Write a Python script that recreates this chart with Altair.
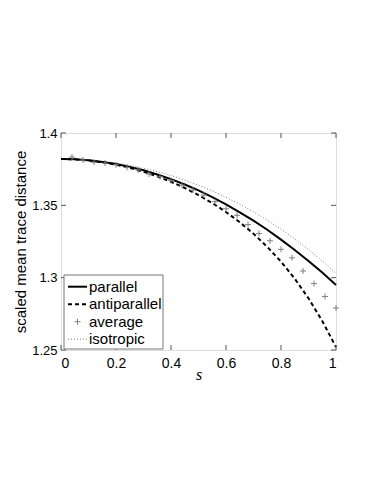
import altair as alt
import pandas as pd

# ---- data ----
s_line = [0.00, 0.05, 0.10, 0.15, 0.20, 0.25, 0.30, 0.35, 0.40, 0.45, 0.50,
          0.55, 0.60, 0.65, 0.70, 0.75, 0.80, 0.85, 0.90, 0.95, 1.00]
parallel = [1.3820, 1.3818, 1.3811, 1.3800, 1.3785, 1.3766, 1.3742, 1.3713, 1.3681, 1.3644, 1.3603,
            1.3557, 1.3507, 1.3452, 1.3394, 1.3331, 1.3263, 1.3191, 1.3115, 1.3035, 1.2950]
antiparallel = [1.3820, 1.3818, 1.3810, 1.3798, 1.3781, 1.3759, 1.3732, 1.3700, 1.3663, 1.3620, 1.3571,
                1.3516, 1.3454, 1.3383, 1.3304, 1.3213, 1.3111, 1.2993, 1.2857, 1.2701, 1.2520]
isotropic = [1.3820, 1.3818, 1.3813, 1.3804, 1.3792, 1.3776, 1.3756, 1.3733, 1.3706, 1.3675, 1.3639,
             1.3600, 1.3556, 1.3508, 1.3455, 1.3398, 1.3335, 1.3267, 1.3194, 1.3115, 1.3030]

s_avg = [0.04, 0.08, 0.12, 0.16, 0.20, 0.24, 0.28, 0.32, 0.36, 0.40, 0.44, 0.48, 0.52,
         0.56, 0.60, 0.64, 0.68, 0.72, 0.76, 0.80, 0.84, 0.88, 0.92, 0.96, 1.00]
average = [1.3834, 1.3813, 1.3798, 1.3792, 1.3780, 1.3762, 1.3745, 1.3716, 1.3698, 1.3672, 1.3640, 1.3605, 1.3571,
           1.3525, 1.3476, 1.3431, 1.3367, 1.3305, 1.3255, 1.3196, 1.3137, 1.3046, 1.2959, 1.2870, 1.2790]

x_ticks = [0, 0.2, 0.4, 0.6, 0.8, 1.0]
y_ticks = [1.25, 1.30, 1.35, 1.40]
legend_labels = ["parallel", "antiparallel", "average", "isotropic"]

# ---- layout / style ----
W, H = 275, 217
FONT = "Liberation Sans"
FRAME = "#555555"
GRAY = "#808080"
PLUS = "M-1,0L1,0M0,-1L0,1"

xs = alt.Scale(domain=[0, 1], nice=False, zero=False)
ys = alt.Scale(domain=[1.25, 1.40], nice=False, zero=False)

x_axis = alt.Axis(values=x_ticks, format="~g", grid=False, domain=False, ticks=False,
                  labelFont=FONT, labelFontSize=14, labelColor="black", labelPadding=6,
                  title="s", titleFont="Liberation Serif", titleFontStyle="italic",
                  titleFontWeight="normal", titleFontSize=16, titleColor="black", titlePadding=-4)
y_axis = alt.Axis(values=y_ticks, format="~g", grid=False, domain=False, ticks=False,
                  labelFont=FONT, labelFontSize=13, labelColor="black", labelPadding=4,
                  title="scaled mean trace distance", titleFont=FONT, titleFontWeight="normal",
                  titleFontSize=15, titleColor="black", titlePadding=3)

lines_df = pd.DataFrame({"s": s_line, "parallel": parallel,
                         "antiparallel": antiparallel, "isotropic": isotropic})
avg_df = pd.DataFrame({"s": s_avg, "average": average})

base = alt.Chart(lines_df)

iso = base.mark_line(color=GRAY, strokeWidth=1, strokeDash=[1, 2]).encode(
    x=alt.X("s:Q", scale=xs, axis=x_axis),
    y=alt.Y("isotropic:Q", scale=ys, axis=y_axis))
par = base.mark_line(color="black", strokeWidth=2).encode(
    x=alt.X("s:Q", scale=xs), y=alt.Y("parallel:Q", scale=ys))
anti = base.mark_line(color="black", strokeWidth=2, strokeDash=[4, 3]).encode(
    x=alt.X("s:Q", scale=xs), y=alt.Y("antiparallel:Q", scale=ys))
avg = alt.Chart(avg_df).mark_point(shape=PLUS, size=36, filled=False, color=GRAY,
                                   strokeWidth=1, opacity=1).encode(
    x=alt.X("s:Q", scale=xs), y=alt.Y("average:Q", scale=ys))

# inside tick marks on all four sides
xt = pd.DataFrame({"t": x_ticks})
yt = pd.DataFrame({"t": y_ticks})
tick_layers = [
    alt.Chart(xt).mark_rule(color=FRAME, strokeWidth=1).encode(
        x=alt.X("t:Q", scale=xs), y=alt.value(0), y2=alt.value(5)),
    alt.Chart(xt).mark_rule(color=FRAME, strokeWidth=1).encode(
        x=alt.X("t:Q", scale=xs), y=alt.value(H), y2=alt.value(H - 5)),
    alt.Chart(yt).mark_rule(color=FRAME, strokeWidth=1).encode(
        y=alt.Y("t:Q", scale=ys), x=alt.value(0), x2=alt.value(5)),
    alt.Chart(yt).mark_rule(color=FRAME, strokeWidth=1).encode(
        y=alt.Y("t:Q", scale=ys), x=alt.value(W), x2=alt.value(W - 5)),
]

# legend box (manual, MATLAB style)
one = pd.DataFrame({"k": [0]})
leg_x0, leg_x1, leg_y0, leg_y1 = 3, 102, 142, 216
row_y = [leg_y0 + 11.7 + i * 17.5 for i in range(4)]
sym_x0, sym_x1, txt_x = 7, 26, 28

legend_layers = [
    alt.Chart(one).mark_rect(fill="white", stroke="#777777", strokeWidth=1).encode(
        x=alt.value(leg_x0), x2=alt.value(leg_x1), y=alt.value(leg_y0), y2=alt.value(leg_y1)),
    alt.Chart(one).mark_rule(color="black", strokeWidth=2).encode(
        x=alt.value(sym_x0), x2=alt.value(sym_x1), y=alt.value(row_y[0])),
    alt.Chart(one).mark_rule(color="black", strokeWidth=2, strokeDash=[4, 3]).encode(
        x=alt.value(sym_x0), x2=alt.value(sym_x1), y=alt.value(row_y[1])),
    alt.Chart(one).mark_point(shape=PLUS, size=36, filled=False, color=GRAY, strokeWidth=1,
                              opacity=1).encode(
        x=alt.value((sym_x0 + sym_x1) / 2), y=alt.value(row_y[2])),
    alt.Chart(one).mark_rule(color=GRAY, strokeWidth=1, strokeDash=[1, 2]).encode(
        x=alt.value(sym_x0), x2=alt.value(sym_x1), y=alt.value(row_y[3])),
]
for i, lab in enumerate(legend_labels):
    legend_layers.append(
        alt.Chart(pd.DataFrame({"label": [lab]})).mark_text(
            align="left", baseline="middle", font=FONT, fontSize=15, color="black").encode(
            text="label:N", x=alt.value(txt_x), y=alt.value(row_y[i])))

chart = alt.layer(iso, par, anti, avg, *tick_layers, *legend_layers).properties(
    width=W, height=H,
    autosize=alt.AutoSizeParams(type="none"),
    padding={"left": 53, "top": 125, "right": 30, "bottom": 100},
).configure_view(stroke=FRAME, strokeWidth=1).configure(background="white")

chart.save("out.html", embed_options={"renderer": "svg", "actions": False})
